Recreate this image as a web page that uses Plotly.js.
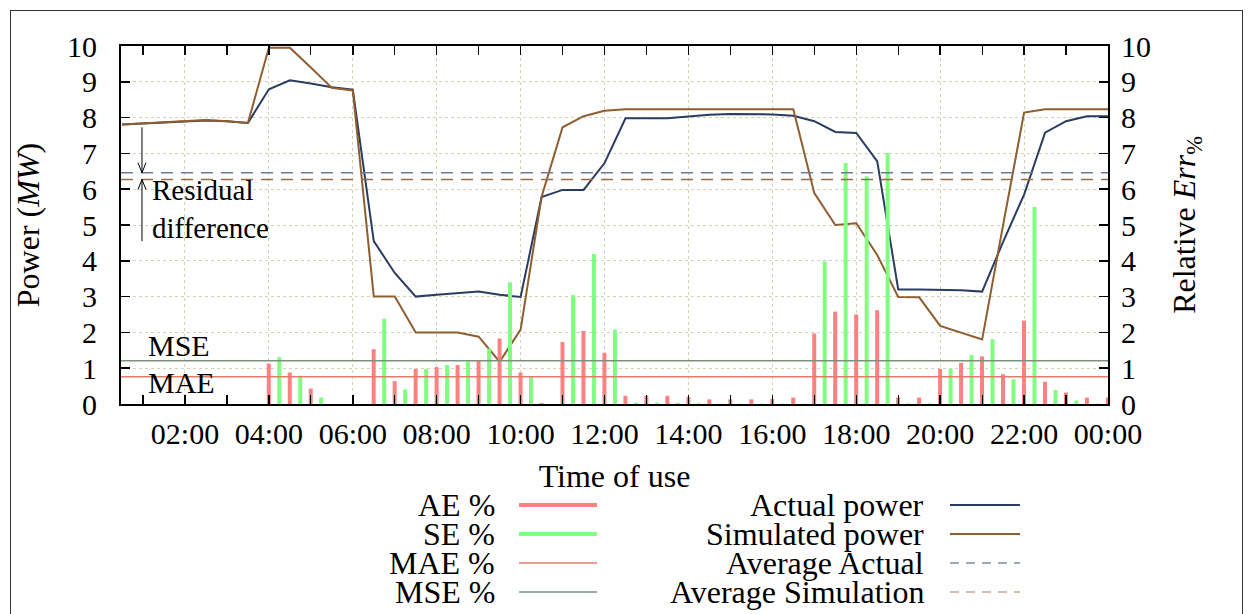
<!DOCTYPE html>
<html>
<head>
<meta charset="utf-8">
<script src="https://cdn.plot.ly/plotly-3.0.1.min.js"></script>
<style>
  html, body { margin: 0; padding: 0; background: #fff; }
  #frame { position: absolute; left: 10px; top: 10px; width: 1231px; height: 700px; border: 1px solid #333; pointer-events: none; }
  #chart { position: absolute; left: 0; top: 0; width: 1252px; height: 614px; }
</style>
</head>
<body>
<div id="chart"></div>
<div id="frame"></div>
<script>
// Time of each sample, in hours (00:30 .. 24:00, every 30 minutes)
const hours = [0.5,1,1.5,2,2.5,3,3.5,4,4.5,5,5.5,6,6.5,7,7.5,8,8.5,9,9.5,10,10.5,11,11.5,12,
               12.5,13,13.5,14,14.5,15,15.5,16,16.5,17,17.5,18,18.5,19,19.5,20,20.5,21,21.5,22,22.5,23,23.5,24];

const actualPower = [7.81,7.84,7.87,7.89,7.92,7.90,7.85,8.79,9.04,8.95,8.85,8.78,4.55,3.66,3.00,3.05,3.10,3.14,3.05,2.99,
                     5.78,5.98,5.98,6.73,7.98,7.98,7.98,8.03,8.08,8.10,8.10,8.09,8.05,7.90,7.60,7.57,6.78,3.20,3.20,3.20,
                     3.18,3.14,4.53,5.85,7.58,7.90,8.04,8.04];

const simulatedPower = [7.81,7.84,7.87,7.89,7.93,7.90,7.85,9.95,9.95,9.40,8.83,8.76,3.00,3.00,2.00,2.00,2.00,1.88,1.18,2.08,
                        5.79,7.73,8.04,8.19,8.23,8.23,8.23,8.23,8.23,8.23,8.23,8.23,8.23,5.89,5.00,5.05,4.16,2.99,2.98,2.18,
                        2.00,1.80,5.00,8.14,8.23,8.23,8.23,8.23];

const aePct = [0,0,0,0,0,0,0,1.13,0.88,0.43,0,0,1.53,0.64,0.98,1.03,1.09,1.21,1.83,0.88,
               0.03,1.73,2.04,1.43,0.23,0.23,0.23,0.20,0.13,0.13,0.13,0.14,0.18,1.97,2.58,2.50,2.62,0.18,0.18,0.98,
               1.15,1.33,0.83,2.33,0.62,0.32,0.18,0.18];

const sePct = [0,0,0,0,0,0,0,1.31,0.79,0.18,0,0,2.38,0.41,0.98,1.09,1.19,1.55,3.40,0.78,
               0,3.04,4.19,2.08,0.04,0.04,0.03,0.02,0.01,0.01,0.01,0.01,0.01,3.98,6.73,6.36,7.01,0.02,0.02,0.98,
               1.37,1.81,0.69,5.50,0.39,0.10,0.01,0.01];

const avgActual = 6.46;
const avgSimulation = 6.27;
const maePct = 0.76;
const msePct = 1.21;

const xTickVals = [2,4,6,8,10,12,14,16,18,20,22,24];
const xTickText = ["02:00","04:00","06:00","08:00","10:00","12:00","14:00","16:00","18:00","20:00","22:00","00:00"];
const yTickVals = [0,1,2,3,4,5,6,7,8,9,10];

const legendLeft = ["AE %","SE %","MAE %","MSE %"];
const legendRight = ["Actual power","Simulated power","Average Actual","Average Simulation"];

// colours
const cNavy = '#2a3c62', cBrown = '#8e5e30', cRed = '#ff8080', cGreen = '#80ff80';
const cMAE = '#e37b6b', cMSE = '#7c927c', cAvgA = '#6c7a98', cAvgS = '#9a6a40';
const FONT = 'Liberation Serif, Times New Roman, serif';

// geometry helpers (plot area in pixels)
const L = 121, R = 1108, T = 46, B = 404;
const px = x => (x - L) / (R - L);
const py = y => (B - y) / (B - T);
const hPerPx = 23.525 / (R - L), vPerPx = 10 / (B - T);

const traces = [
  { type: 'bar', x: hours, y: aePct, yaxis: 'y2', width: 0.095, offset: -0.05,
    marker: { color: cRed, line: { width: 0 } }, showlegend: false, hoverinfo: 'skip' },
  { type: 'bar', x: hours, y: sePct, yaxis: 'y2', width: 0.095, offset: 0.2,
    marker: { color: cGreen, line: { width: 0 } }, showlegend: false, hoverinfo: 'skip' },
  { type: 'scatter', mode: 'lines', x: hours, y: actualPower, line: { color: cNavy, width: 2 }, showlegend: false },
  { type: 'scatter', mode: 'lines', x: hours, y: simulatedPower, line: { color: cBrown, width: 2 }, showlegend: false }
];

const shapes = [
  { type: 'line', xref: 'paper', x0: 0, x1: 1, yref: 'y', y0: avgActual, y1: avgActual, line: { color: cAvgA, width: 1.5, dash: '12px,8px' } },
  { type: 'line', xref: 'paper', x0: 0, x1: 1, yref: 'y', y0: avgSimulation, y1: avgSimulation, line: { color: cAvgS, width: 1.5, dash: '12px,8px' } },
  { type: 'line', xref: 'paper', x0: 0, x1: 1, yref: 'y2', y0: maePct, y1: maePct, line: { color: cMAE, width: 1.5 } },
  { type: 'line', xref: 'paper', x0: 0, x1: 1, yref: 'y2', y0: msePct, y1: msePct, line: { color: cMSE, width: 1.5 } }
];

// residual-difference arrows (open V heads, gnuplot style)
const arrowX = 0.975, headW = 4 * hPerPx, headL = 10 * vPerPx;
const arrowTop = 7.73, arrowBottom = 4.55;
shapes.push({ type: 'line', xref: 'x', yref: 'y', x0: arrowX, x1: arrowX, y0: arrowTop, y1: avgActual, line: { color: '#000', width: 1 } });
shapes.push({ type: 'path', xref: 'x', yref: 'y', line: { color: '#000', width: 1 },
  path: `M ${arrowX - headW} ${avgActual + headL} L ${arrowX} ${avgActual} L ${arrowX + headW} ${avgActual + headL}` });
shapes.push({ type: 'line', xref: 'x', yref: 'y', x0: arrowX, x1: arrowX, y0: avgSimulation, y1: arrowBottom, line: { color: '#000', width: 1 } });
shapes.push({ type: 'path', xref: 'x', yref: 'y', line: { color: '#000', width: 1 },
  path: `M ${arrowX - headW} ${avgSimulation - headL} L ${arrowX} ${avgSimulation} L ${arrowX + headW} ${avgSimulation - headL}` });

const legendRowsY = [505, 534, 563, 592];
const leftStyles = [
  { color: cRed, width: 4 }, { color: cGreen, width: 4 }, { color: cMAE, width: 1.5 }, { color: cMSE, width: 1.5 }
];
const rightStyles = [
  { color: cNavy, width: 2 }, { color: cBrown, width: 2 }, { color: '#7d8aa6', width: 1.5, dash: '9px,7px' }, { color: '#c8aa8a', width: 1.5, dash: '9px,7px' }
];

const annotations = [];
legendLeft.forEach((t, i) => {
  annotations.push({ xref: 'paper', yref: 'paper', x: px(497), y: py(legendRowsY[i]), xanchor: 'right', yanchor: 'middle',
    text: t, showarrow: false, font: { family: FONT, size: 32, color: '#000' } });
  shapes.push({ type: 'line', xref: 'paper', yref: 'paper', x0: px(519), x1: px(597), y0: py(legendRowsY[i]), y1: py(legendRowsY[i]), line: leftStyles[i] });
});
legendRight.forEach((t, i) => {
  annotations.push({ xref: 'paper', yref: 'paper', x: px(926), y: py(legendRowsY[i]), xanchor: 'right', yanchor: 'middle',
    text: t, showarrow: false, font: { family: FONT, size: 32, color: '#000' } });
  shapes.push({ type: 'line', xref: 'paper', yref: 'paper', x0: px(950), x1: px(1020), y0: py(legendRowsY[i]), y1: py(legendRowsY[i]), line: rightStyles[i] });
});

// in-plot labels
annotations.push({ xref: 'paper', yref: 'paper', x: px(150), y: py(209), xanchor: 'left', yanchor: 'middle', align: 'left',
  text: 'Residual<br>difference', showarrow: false, font: { family: FONT, size: 29, color: '#000' } });
annotations.push({ xref: 'paper', yref: 'paper', x: px(146), y: py(345), xanchor: 'left', yanchor: 'middle',
  text: 'MSE', showarrow: false, font: { family: FONT, size: 30, color: '#000' } });
annotations.push({ xref: 'paper', yref: 'paper', x: px(146), y: py(382), xanchor: 'left', yanchor: 'middle',
  text: 'MAE', showarrow: false, font: { family: FONT, size: 30, color: '#000' } });

const layout = {
  width: 1252, height: 614,
  margin: { l: L, r: 1252 - R, t: T, b: 614 - B },
  paper_bgcolor: 'rgba(0,0,0,0)', plot_bgcolor: '#fff',
  showlegend: false,
  barmode: 'overlay',
  font: { family: FONT, size: 30, color: '#000' },
  xaxis: {
    range: [0.475, 24], tickvals: xTickVals, ticktext: xTickText,
    ticks: 'inside', ticklen: 9, tickwidth: 1.5, tickcolor: '#000',
    minor: { dtick: 1, tick0: 0, ticks: 'inside', ticklen: 5, tickwidth: 1.2, tickcolor: '#000', showgrid: false },
    showline: true, linecolor: '#000', linewidth: 2, mirror: 'allticks',
    showgrid: true, gridcolor: '#d2d2b4', griddash: 'dot', gridwidth: 1,
    zeroline: false, ticklabelstandoff: 2,
    tickfont: { family: FONT, size: 30, color: '#000' },
    title: { text: 'Time of use', font: { family: FONT, size: 32, color: '#000' }, standoff: 16 }
  },
  yaxis: {
    range: [0, 10], tickvals: yTickVals,
    ticks: 'inside', ticklen: 9, tickwidth: 1.5, tickcolor: '#000',
    showline: true, linecolor: '#000', linewidth: 2, mirror: 'allticks',
    showgrid: true, gridcolor: '#d2d2b4', griddash: 'dot', gridwidth: 1,
    zeroline: false, ticklabelstandoff: 16,
    tickfont: { family: FONT, size: 30, color: '#000' },
    title: { text: 'Power (<i>MW</i>)', font: { family: FONT, size: 32, color: '#000' }, standoff: 18 }
  },
  yaxis2: {
    range: [0, 10], tickvals: yTickVals, overlaying: 'y', side: 'right',
    ticks: '', showline: false, showgrid: false, zeroline: false, ticklabelstandoff: 12,
    tickfont: { family: FONT, size: 30, color: '#000' },
    title: { text: 'Relative <i>Err</i><sub>%</sub>', font: { family: FONT, size: 32, color: '#000' }, standoff: 22 }
  },
  shapes: shapes,
  annotations: annotations
};

Plotly.newPlot('chart', traces, layout, { staticPlot: true, displayModeBar: false });
</script>
</body>
</html>
